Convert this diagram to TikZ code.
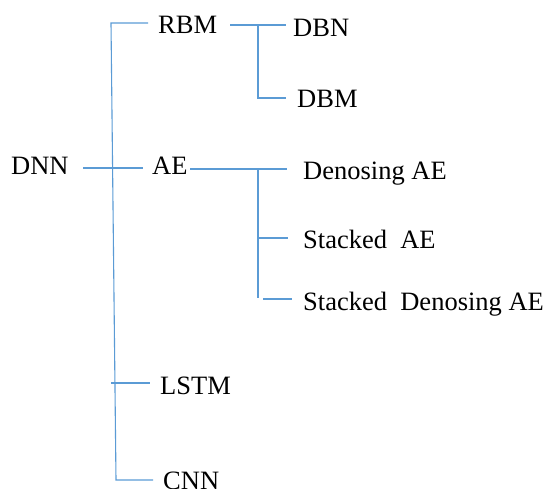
\documentclass[tikz,border=0pt]{standalone}
\usepackage{fontspec}
\setmainfont{Liberation Serif}
\begin{document}
\begin{tikzpicture}[x=1pt,y=-1pt,
  lbl/.style={anchor=base west,inner sep=0pt,font=\fontsize{26.5}{30}\selectfont},
  link/.style={draw=linkblue,line width=1.1pt}]
\definecolor{linkblue}{RGB}{91,155,213}
\useasboundingbox (0,0) rectangle (548,489);
% labels
\node[lbl] (dnn)  at (11,175)  {DNN};
\node[lbl] (rbm)  at (158,34)  {RBM};
\node[lbl] (ae)   at (152,175) {AE};
\node[lbl] (lstm) at (160,394) {LSTM};
\node[lbl] (cnn)  at (163,489) {CNN};
\node[lbl] (dbn)  at (293,37)  {DBN};
\node[lbl] (dbm)  at (297,108) {DBM};
\node[lbl] (dae)  at (303,179) {Denosing AE};
\node[lbl] (sae)  at (303,248) {Stacked\ \ AE};
\node[lbl] (sdae) at (303,310) {Stacked\ \ Denosing AE};
% junction points of the tree
\coordinate (trunkTop) at (111,23);
\coordinate (trunkBot) at (116,480);
\coordinate (dnnL) at (83,168);
\coordinate (dnnR) at (143,168);
\coordinate (rbmEnd) at (148,23);
\coordinate (lstmL) at (111,383);
\coordinate (lstmR) at (150,383);
\coordinate (cnnEnd) at (153,480);
\coordinate (rbmOut) at (230,25);
\coordinate (rbmJ) at (258,25);
\coordinate (dbnEnd) at (286,25);
\coordinate (dbmJ) at (258,98);
\coordinate (dbmEnd) at (286,98);
\coordinate (aeOut) at (190,169);
\coordinate (aeJ) at (258,169);
\coordinate (daeEnd) at (287,169);
\coordinate (saeJ) at (258,238);
\coordinate (saeEnd) at (288,238);
\coordinate (sdaeJ) at (258,298);
\coordinate (sdaeL) at (263,299);
\coordinate (sdaeEnd) at (292,299);
% first level
\draw[link] (dnnL) -- (dnnR);
\draw[link] (rbmEnd) -- (trunkTop) -- (trunkBot) -- (cnnEnd);
\draw[link] (lstmL) -- (lstmR);
% RBM branch
\draw[link] (rbmOut) -- (dbnEnd);
\draw[link] (rbmJ) -- (dbmJ) -- (dbmEnd);
% AE branch
\draw[link] (aeOut) -- (daeEnd);
\draw[link] (aeJ) -- (sdaeJ);
\draw[link] (saeJ) -- (saeEnd);
\draw[link] (sdaeL) -- (sdaeEnd);
\end{tikzpicture}
\end{document}
